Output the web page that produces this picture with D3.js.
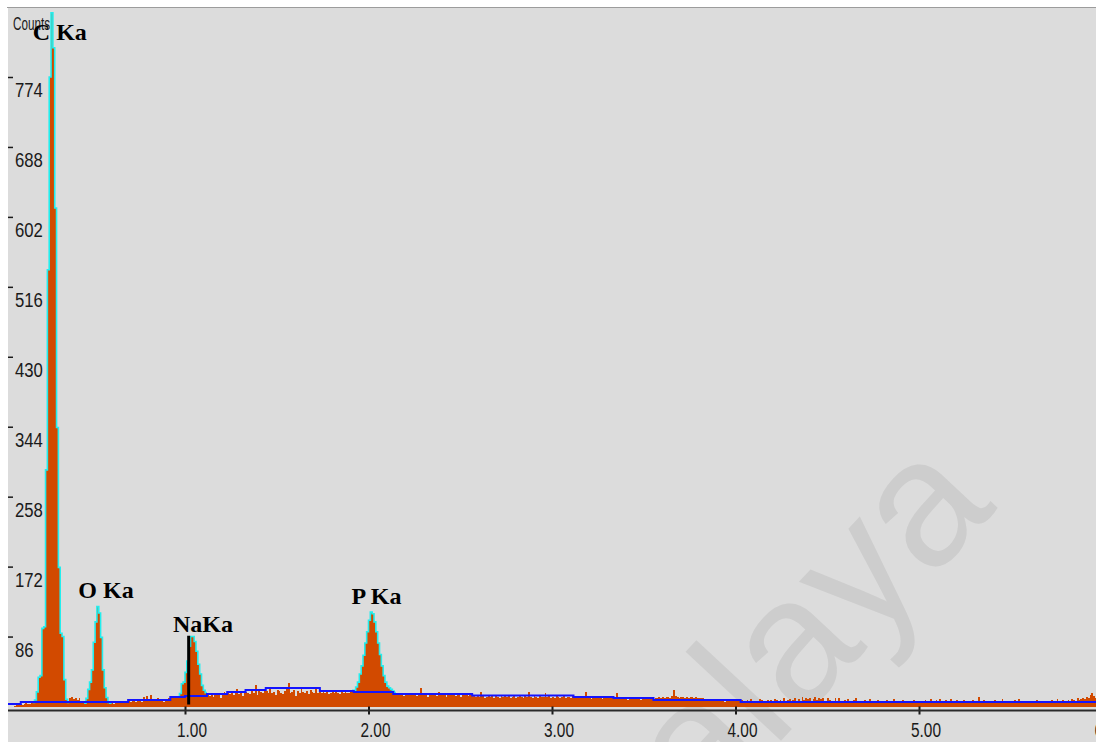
<!DOCTYPE html>
<html>
<head>
<meta charset="utf-8">
<script src="https://cdn.jsdelivr.net/npm/d3@7"></script>
<style>
  html, body { margin: 0; padding: 0; background: #ffffff; }
  svg { display: block; }
</style>
</head>
<body>
<svg id="chart" width="1096" height="742"></svg>
<script>
// EDS spectrum: counts per 10 eV channel, channel i starts at i * 0.01 keV
const channelWidth = 0.01;

const counts000 = [ // 0.00 - 0.99 keV
  0,0,0,0,0,0,0,1,2,2,
  3,2,3,4,3,3,4,5,
  8,18,36,38,96,98,291,537,
  774,853,810,613,343,171,90,86,33,9,
  5,10,12,9,11,8,10,6,5,4,
  10,21,30,45,79,104,123,115,85,45,23,11,5,
  4,5,3,6,5,4,7,5,4,6,
  7,6,8,7,5,8,7,6,12,8,13,7,14,9,8,7,10,8,7,6,9,8,10,12,11,13,12,
  12,16,28,30
];
const counts100 = [ // 1.00 - 1.99 keV
  42,56,74,86,86,80,68,52,40,26,20,17,
  15,13,16,12,17,14,15,11,16,18,14,
  17,15,19,14,16,21,15,17,13,18,
  18,16,15,19,17,27,14,20,18,16,19,
  19,17,21,16,18,14,20,19,17,15,19,21,29,16,18,20,13,19,17,22,18,16,19,15,20,18,17,21,16,19,
  17,19,16,18,15,17,19,16,18,17,15,18,16,19,17,16,18,20,
  20,24,30,40,50,63,78,92
];
const counts200 = [ // 2.00 - 2.99 keV
  106,116,114,104,92,78,64,50,38,30,25,23,21,
  19,17,15,16,14,17,13,16,15,14,17,15,16,13,15,23,14,16,15,12,17,14,16,15,13,18,15,14,16,12,15,17,14,15,13,16,14,12,15,14,16,13,15,14,
  13,12,14,12,18,13,11,12,13,12,14,10,13,12,11,13,12,14,12,13,11,12,13,10,12,13,12,11,13,12,18,12,11,13,12,10,13,12,12,17,12,13,11
];
const counts300 = [ // 3.00 - 3.99 keV
  12,11,13,12,10,12,13,11,12,12,11,13,
  11,10,11,10,12,11,18,10,11,9,11,10,12,10,11,9,10,11,10,12,10,11,
  10,16,9,10,11,9,10,8,10,9,11,10,9,10,8,10,9,10,11,9,10,9,
  10,11,12,11,12,11,12,12,11,13,20,13,12,11,12,12,11,12,11,12,12,11,12,11,10,11,10,9,
  8,9,8,7,9,8,8,7,9,8,6,8,9,7,8,8
];
const counts400 = [ // 4.00 - 4.99 keV
  8,7,9,8,7,6,8,7,9,7,
  7,6,7,9,8,6,6,8,7,8,
  7,9,8,6,8,7,10,6,8,9,
  6,8,11,7,9,6,12,8,10,9,
  11,7,9,12,8,10,9,11,7,6,
  11,8,7,6,10,7,10,6,7,8,
  6,9,7,6,8,10,7,6,7,6,
  8,6,7,9,6,7,6,8,7,6,
  6,7,8,6,7,6,9,7,6,7,
  6,8,7,6,7,6,7,8,6,7
];
const counts500 = [ // 5.00 - 5.97 keV
  6,7,5,8,6,7,9,6,7,8,
  6,9,7,5,8,6,7,9,6,7,
  8,6,7,5,8,7,6,7,5,8,
  6,7,12,7,5,8,6,7,6,7,
  5,8,6,7,6,9,5,7,6,6,
  7,5,8,6,9,6,7,5,7,6,
  6,7,5,6,8,6,7,5,6,7,
  6,5,8,7,6,9,7,6,8,7,
  7,8,7,9,8,7,10,8,9,11,
  9,12,10,14,17,13,10,8
];

// Background fit: energy where each step starts, and its level in counts
const bgEnergy = [0.03, 0.105, 0.69, 0.92, 1.00, 1.12, 1.23, 1.33, 1.44, 1.735, 1.92, 2.135, 2.565, 3.117, 3.335, 3.553, 4.028, 6.0];
const bgLevel  = [3, 5.5, 8, 11.7, 13, 15.4, 17.8, 20.3, 22.7, 19, 17.8, 15.4, 13.4, 11.7, 10.4, 8, 5.5, 5.5];

// Peak regions of interest (outlined), keV
const roiStart = [0.17, 0.45, 0.96, 1.91];
const roiEnd   = [0.36, 0.59, 1.11, 2.14];

// Identified lines
const peakNames  = ["C Ka", "O Ka", "NaKa", "P Ka"];
const peakEnergy = [0.277, 0.525, 1.041, 2.013];
const labelLevel = [819, 134, 92, 126];

// Cursor marker
const markerEnergy = 1.02;
const markerCount = 87;

const xTicks = [1, 2, 3, 4, 5, 6];
const yTicks = [86, 172, 258, 344, 430, 516, 602, 688, 774];

const W = 1096, H = 742;
const plot = { left: 8, top: 7, right: 1096, bottom: 742 };
const axisY = 710.5;

const counts = [].concat(counts000, counts100, counts200, counts300, counts400, counts500);
const spectrum = counts.map((c, i) => ({ e: i * channelWidth, c }));
spectrum.push({ e: counts.length * channelWidth, c: counts[counts.length - 1] });

const x = d3.scaleLinear().domain([0, 6]).range([1.5, 1102.5]);
const y = d3.scaleLinear().domain([0, 774]).range([706.5, 77]);

const svg = d3.select("#chart");

// panel
svg.append("rect")
  .attr("x", plot.left).attr("y", plot.top)
  .attr("width", plot.right - plot.left).attr("height", plot.bottom - plot.top)
  .attr("fill", "#dcdcdc");
svg.append("line")
  .attr("x1", plot.left - 1).attr("x2", plot.right)
  .attr("y1", plot.top + 0.5).attr("y2", plot.top + 0.5)
  .attr("stroke", "#9c9c9c").attr("stroke-width", 1);

// watermark
svg.append("text")
  .attr("transform", "translate(998,508) rotate(-47)")
  .attr("text-anchor", "end")
  .attr("font-family", "'Liberation Sans', Arial, sans-serif")
  .attr("font-size", 180)
  .attr("fill", "#cdcdcd")
  .text("Malaya");

svg.append("clipPath").attr("id", "plotClip")
  .append("rect")
  .attr("x", plot.left).attr("y", plot.top + 1)
  .attr("width", plot.right - plot.left).attr("height", axisY - plot.top - 2);

const g = svg.append("g").attr("clip-path", "url(#plotClip)");

// spectrum fill
const area = d3.area()
  .curve(d3.curveStepAfter)
  .x(d => x(d.e))
  .y0(y(0))
  .y1(d => y(d.c));
g.append("path")
  .datum(spectrum)
  .attr("d", area)
  .attr("fill", "#d24a00")
  .attr("shape-rendering", "crispEdges");

// peak outlines
const stepLine = d3.line()
  .curve(d3.curveStepAfter)
  .x(d => x(d.e))
  .y(d => y(d.c));
roiStart.forEach((s, k) => {
  const i0 = Math.round(s / channelWidth);
  const i1 = Math.round(roiEnd[k] / channelWidth);
  const pts = spectrum.slice(i0, i1 + 1);
  pts.push({ e: (i1 + 1) * channelWidth, c: counts[i1] });
  g.append("path")
    .datum(pts)
    .attr("d", stepLine)
    .attr("fill", "none")
    .attr("stroke", "#22eeee")
    .attr("stroke-width", 1.6);
});

// background fit
const bg = bgEnergy.map((e, i) => ({ e, c: bgLevel[i] }));
g.append("path")
  .datum(bg)
  .attr("d", stepLine)
  .attr("fill", "none")
  .attr("stroke", "#1414ff")
  .attr("stroke-width", 2);

// cursor
g.append("line")
  .attr("x1", x(markerEnergy)).attr("x2", x(markerEnergy))
  .attr("y1", y(markerCount)).attr("y2", y(0) - 2)
  .attr("stroke", "#000").attr("stroke-width", 3);

// x axis
const xAxis = d3.axisBottom(x)
  .tickValues(xTicks)
  .tickFormat(d3.format(".2f"))
  .tickSize(4);
const gx = svg.append("g")
  .attr("transform", `translate(0,${axisY})`)
  .call(xAxis);
gx.select(".domain").remove();
gx.append("line")
  .attr("x1", plot.left).attr("x2", plot.right)
  .attr("y1", 0).attr("y2", 0)
  .attr("stroke", "#2a2a2a").attr("stroke-width", 2);
gx.selectAll(".tick line")
  .attr("y1", -4).attr("y2", 4)
  .attr("stroke", "#1a1a1a").attr("stroke-width", 2);
gx.selectAll(".tick text")
  .attr("y", 26.5).attr("dy", 0).attr("x", 6.5)
  .attr("text-anchor", "middle")
  .attr("fill", "#1a1a1a")
  .attr("font-family", "'Liberation Sans Narrow', 'Liberation Sans', Arial, sans-serif")
  .attr("font-size", 20)
  .attr("lengthAdjust", "spacingAndGlyphs")
  .attr("textLength", 30);

// y axis
const yAxis = d3.axisRight(y).tickValues(yTicks).tickSize(5);
const gy = svg.append("g")
  .attr("transform", `translate(${plot.left},0)`)
  .call(yAxis);
gy.select(".domain").remove();
gy.selectAll(".tick line").attr("stroke", "#1a1a1a").attr("stroke-width", 1.5);
gy.selectAll(".tick text")
  .attr("x", 7).attr("y", 13.5).attr("dy", "0.32em")
  .attr("text-anchor", "start")
  .attr("fill", "#1a1a1a")
  .attr("font-family", "'Liberation Sans Narrow', 'Liberation Sans', Arial, sans-serif")
  .attr("font-size", 20)
  .attr("lengthAdjust", "spacingAndGlyphs")
  .attr("textLength", d => String(d).length * 9.3);

// axis title
svg.append("text")
  .attr("x", 13).attr("y", 30)
  .attr("font-family", "'Liberation Sans Narrow', 'Liberation Sans', Arial, sans-serif")
  .attr("font-size", 18)
  .attr("fill", "#1a1a1a")
  .attr("lengthAdjust", "spacingAndGlyphs")
  .attr("textLength", 37)
  .text("Counts");

// line labels
svg.append("g").selectAll("text")
  .data(peakNames)
  .join("text")
  .attr("x", (d, i) => x(peakEnergy[i]) - 19.5)
  .attr("y", (d, i) => y(labelLevel[i]))
  .attr("font-family", "'Liberation Serif', 'Times New Roman', serif")
  .attr("font-weight", "bold")
  .attr("font-size", 24)
  .attr("fill", "#000")
  .text(d => d);
</script>
</body>
</html>
